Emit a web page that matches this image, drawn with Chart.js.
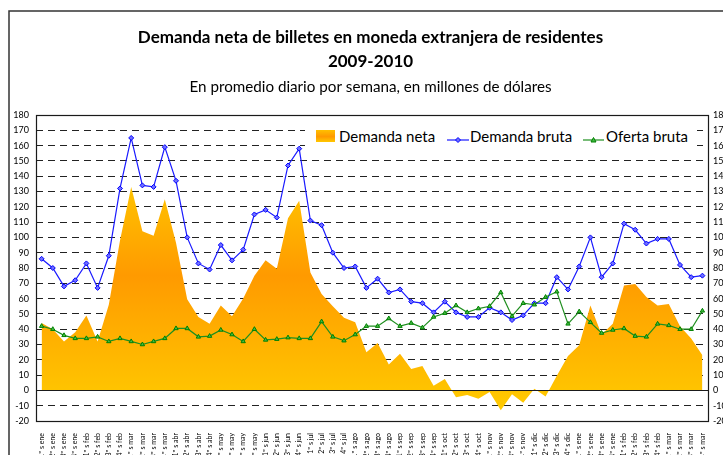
<!DOCTYPE html>
<html>
<head>
<meta charset="utf-8">
<script src="https://cdn.jsdelivr.net/npm/chart.js@4.4.1/dist/chart.umd.min.js"></script>
<style>
  body { margin: 0; background: #fff; }
  #wrap { position: relative; width: 723px; height: 455px; overflow: hidden; }
  #legend { position: absolute; left: 305px; top: 121px; width: 392px; height: 30px; background: #fff; }
  #legend div { position: absolute; }
  #legend .txt { font-family: Lato, sans-serif; font-size: 15px; line-height: 15px; color: #000; white-space: nowrap; top: 8px; }
</style>
</head>
<body>
<div id="wrap">
  <canvas id="chart"></canvas>
  <div id="legend">
    <div style="left:11px;top:9px;width:19px;height:12px;background:linear-gradient(#ffc000,#ff9900 55%,#ffc800);"></div>
    <div class="txt" style="left:34px;">Demanda neta</div>
    <div style="left:142px;top:10px;">
      <svg width="22" height="10"><line x1="0" y1="5" x2="22" y2="5" stroke="#1a1aff" stroke-width="1.2"/><polygon points="11,2.5 13.5,5 11,7.5 8.5,5" fill="#6f6fff" stroke="#0000ff" stroke-width="1"/></svg>
    </div>
    <div class="txt" style="left:165px;">Demanda bruta</div>
    <div style="left:278px;top:10px;">
      <svg width="21" height="10"><line x1="0" y1="5" x2="21" y2="5" stroke="#1f8f1f" stroke-width="1.2"/><polygon points="10.5,2.5 13,7 8,7" fill="#44bb44" stroke="#008000" stroke-width="1"/></svg>
    </div>
    <div class="txt" style="left:301px;">Oferta bruta</div>
  </div>
</div>
<script>
const FONT = 'Lato, sans-serif';

// semanas de ene-2009 a mar-2010
const weeks = ['1º', '2º', '3º', '4º'];
const months = ['ene', 'feb', 'mar', 'abr', 'may', 'jun', 'jul', 'ago', 'sep', 'oct', 'nov', 'dic', 'ene', 'feb', 'mar'];
const labels = [];
months.forEach(m => weeks.forEach(w => labels.push(w + ' s ' + m)));

const demandaBruta = [86, 80, 68, 72, 83, 67, 88, 132, 165, 134,
  133, 159, 137, 100, 83, 79, 95, 85, 92, 115,
  118, 113, 147, 158, 111, 108, 90, 80, 81, 67,
  73, 64, 66, 58, 57, 51, 58, 51, 48, 48,
  54, 51, 46, 49, 57, 57, 74, 66, 81, 100,
  74, 83, 109, 105, 96, 99, 99, 82, 74, 75];

const ofertaBruta = [42, 40, 36, 34, 34, 35, 32, 34, 32, 30,
  32, 34, 40.5, 40.5, 35, 35.5, 39.5, 36.5, 32, 40,
  33, 33.5, 34.5, 34, 34, 45, 35, 32.5, 36.5, 42,
  42, 47, 42, 44, 41, 48, 50.5, 55.5, 51, 53.5,
  55, 64, 48.5, 57, 56, 61, 64.5, 43.5, 51.5, 44.5,
  37.5, 39.5, 40.5, 35.5, 35, 43.5, 42.5, 40, 40, 52];

const demandaNeta = [44, 40, 32, 38, 49, 32, 56, 98, 133, 104,
  101, 125, 96.5, 59.5, 48, 43.5, 55.5, 48.5, 60, 75,
  85, 79.5, 112.5, 124, 77, 63, 55, 47.5, 44.5, 25,
  31, 17, 24, 14, 16, 3, 7.5, -4.5, -3, -5.5,
  -1, -13, -2.5, -8, 1, -4, 9.5, 22.5, 29.5, 55.5,
  36.5, 43.5, 68.5, 69.5, 61, 55.5, 56.5, 42, 34, 23];

function netaFill(ctx) {
  const chart = ctx.chart;
  if (!chart.chartArea) return '#ffa500';
  const y = chart.scales.y;
  const g = chart.ctx.createLinearGradient(0, y.getPixelForValue(135), 0, y.getPixelForValue(-15));
  g.addColorStop(0, '#ffc400');
  g.addColorStop(0.4, '#ff9a00');
  g.addColorStop(1, '#ffcc00');
  return g;
}

const framePlugin = {
  id: 'frame',
  beforeDraw(chart) {
    const c = chart.ctx;
    c.save();
    c.strokeStyle = '#333';
    c.lineWidth = 1.5;
    c.strokeRect(9, 11, 900, 900);
    c.restore();
  },
  afterDatasetsDraw(chart) {
    const c = chart.ctx, a = chart.chartArea, y = chart.scales.y;
    c.save();
    c.strokeStyle = '#1a1a1a';
    c.lineWidth = 1.2;
    const z = Math.round(y.getPixelForValue(0)) + 0.5;
    c.beginPath();
    c.moveTo(a.left, z);
    c.lineTo(a.right, z);
    c.stroke();
    c.strokeRect(Math.round(a.left) + 0.5, Math.round(a.top) + 0.5, Math.round(a.width), Math.round(a.height));
    c.restore();
  }
};

new Chart(document.getElementById('chart'), {
  type: 'line',
  data: {
    labels,
    datasets: [
      {
        label: 'Demanda neta',
        data: demandaNeta,
        fill: 'origin',
        backgroundColor: netaFill,
        borderWidth: 0,
        pointRadius: 0,
        tension: 0,
        order: 3
      },
      {
        label: 'Demanda bruta',
        data: demandaBruta,
        borderColor: '#1a1aff',
        borderWidth: 1.2,
        pointStyle: 'rectRot',
        pointRadius: 2.5,
        pointBackgroundColor: '#6f6fff',
        pointBorderColor: '#0000ff',
        pointBorderWidth: 1,
        fill: false,
        tension: 0,
        order: 2
      },
      {
        label: 'Oferta bruta',
        data: ofertaBruta,
        borderColor: '#1f8f1f',
        borderWidth: 1.2,
        pointStyle: 'triangle',
        pointRadius: 2.5,
        pointBackgroundColor: '#44bb44',
        pointBorderColor: '#008000',
        pointBorderWidth: 1,
        fill: false,
        tension: 0,
        order: 1
      }
    ]
  },
  options: {
    responsive: true,
    maintainAspectRatio: false,
    animation: false,
    devicePixelRatio: 1,
    // negative right padding pushes the title centre right, as in the original
    layout: { padding: { left: 0, right: -18, top: 0, bottom: 0 } },
    plugins: {
      legend: { display: false },
      tooltip: { enabled: false },
      title: {
        display: true,
        text: ['Demanda neta de billetes en moneda extranjera de residentes', '2009-2010'],
        color: '#000',
        font: { family: FONT, size: 17, weight: 'bold', lineHeight: 24 / 17 },
        padding: { top: 26, bottom: 0 }
      },
      subtitle: {
        display: true,
        text: 'En promedio diario por semana, en millones de dólares',
        color: '#000',
        font: { family: FONT, size: 15.2, lineHeight: 24 / 15.2 },
        padding: { top: 1, bottom: 16 }
      }
    },
    scales: {
      x: {
        offset: true,
        grid: { display: false },
        border: { display: false },
        ticks: {
          autoSkip: false,
          maxRotation: 90,
          minRotation: 90,
          padding: 4,
          color: '#000',
          font: { family: FONT, size: 7 }
        },
        afterFit: s => { s.height = 34; }
      },
      y: {
        position: 'left',
        min: -20,
        max: 180,
        ticks: { stepSize: 10, padding: 7, color: '#000', font: { family: FONT, size: 9 } },
        grid: {
          drawTicks: false,
          lineWidth: 1,
          color: ctx => [0, 180, -20].includes(ctx.tick.value) ? 'rgba(0,0,0,0)' : '#222'
        },
        border: { display: false, dash: [7, 5] },
        afterFit: s => { s.width = 36; }
      },
      y2: {
        position: 'right',
        min: -20,
        max: 180,
        ticks: { stepSize: 10, padding: 5, color: '#000', font: { family: FONT, size: 9 } },
        grid: { display: false, drawTicks: false },
        border: { display: false },
        afterFit: s => { s.width = 33; }
      }
    }
  },
  plugins: [framePlugin]
});
</script>
</body>
</html>
